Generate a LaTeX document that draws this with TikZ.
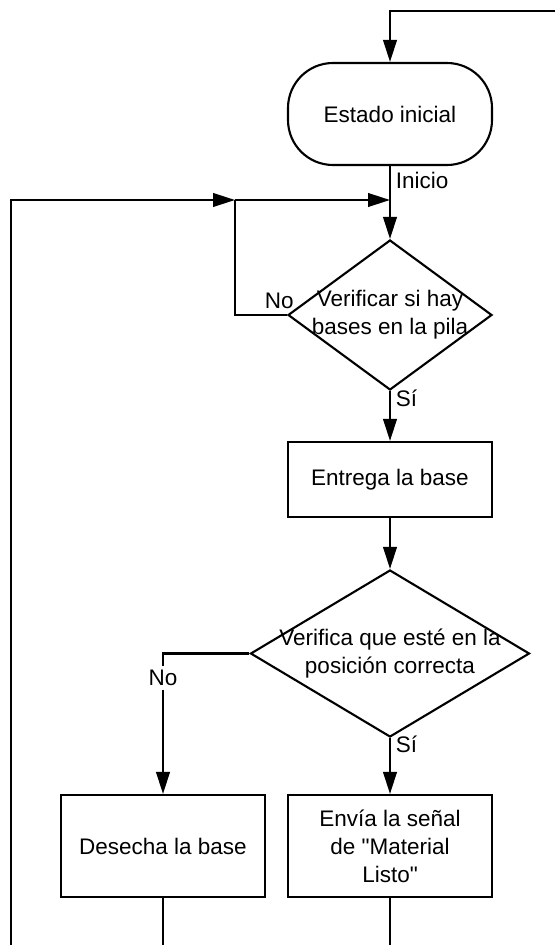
\documentclass[tikz,border=0pt]{standalone}
\usepackage{fontspec}
\setmainfont{Liberation Sans}[Ligatures=TeXOff]
\usetikzlibrary{shapes.geometric}
\usetikzlibrary{arrows.meta}

\begin{document}
\begin{tikzpicture}[
		every node/.style={font=\fontsize{16}{20}\selectfont},
		line/.style={line width=1.5pt},
		flow/.style={line,-{Triangle[length=0.55cm,width=0.34cm]}},
		state/.style={draw,line width=1.5pt,rounded corners=1.125cm,minimum width=5.1cm,minimum height=2.55cm},
		process/.style={draw,line width=1.5pt,align=center,minimum width=5.1cm,minimum height=2.55cm},
		decision/.style={draw,line width=1.5pt,diamond,inner sep=0pt},
		lbl/.style={inner sep=0.12cm}]
	\useasboundingbox (0,0) rectangle (13.875,-23.625);
	% nodes
	\node[state] (start) at (9.75,-2.85) {Estado inicial};
	\node[decision,minimum width=5.1cm,minimum height=3.75cm] (chk) at (9.75,-7.875) {};
	\node[align=center] (chktxt) at (chk) {Verificar si hay\\bases en la pila};
	\node[process,minimum height=1.875cm] (give) at (9.75,-11.9875) {Entrega la base};
	\node[decision,minimum width=6.975cm,minimum height=4.175cm] (pos) at (9.75,-16.3375) {};
	\node[align=center] (postxt) at (pos) {Verifica que esté en la\\posición correcta};
	\node[process] (waste) at (4.075,-21.15) {Desecha la base};
	\node[process] (send) at (9.75,-21.15) {Envía la señal\\de "Material\\Listo"};
	\coordinate (tr) at (13.875,-0.275);
	\coordinate (jn) at (5.875,-5);
	\coordinate (mg) at (9.75,-5);
	\coordinate (lb) at (0.265,-23.625);
	\coordinate (wb) at (4.075,-23.625);
	\coordinate (sb) at (9.75,-23.625);
	% connectors
	\draw[flow] (tr) -| (start.north);
	\draw[flow] (start) -- node[lbl,right,pos=0.2] (ini) {Inicio} (chk);
	\draw[flow] (lb) |- (jn);
	\draw[flow] (jn) -- (mg);
	\draw[line] (chk.west) -| node[lbl,above,pos=0.075] (no1) {No} (jn);
	\draw[flow] (chk) -- node[lbl,right,pos=0.15] (si1) {Sí} (give);
	\draw[flow] (give) -- (pos);
	\draw[flow] (pos.west) -| node[lbl,fill=white,inner sep=0.1cm,pos=0.588] (no2) {No} (waste.north);
	\draw[flow] (pos) -- node[lbl,right,pos=0.12] (si2) {Sí} (send);
	\draw[line] (waste) -- (wb);
	\draw[line] (send) -- (sb);
\end{tikzpicture}
\end{document}
